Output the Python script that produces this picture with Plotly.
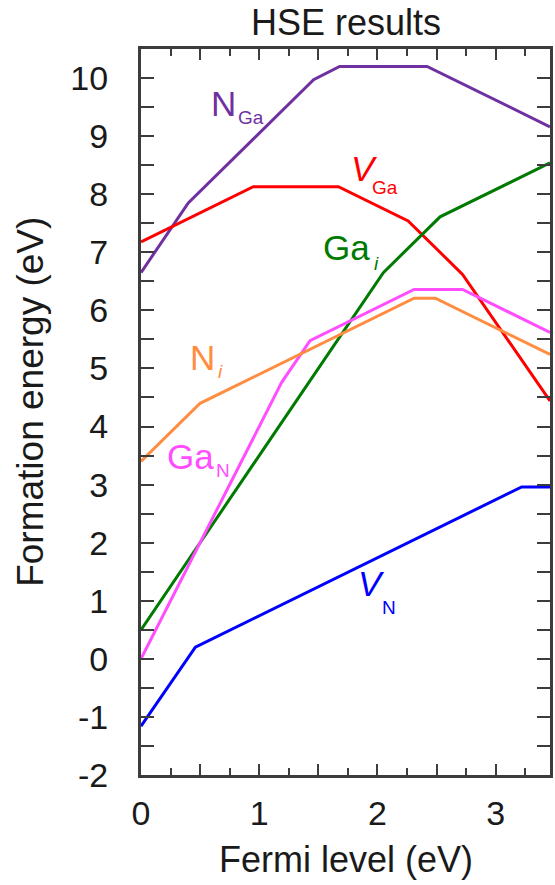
import plotly.graph_objects as go

# Formation energies (eV) of native point defects in GaN vs. Fermi level (eV)
fermi_nga = [0, 0.40, 1.46, 1.68, 2.42, 3.46]
e_nga = [6.65, 7.85, 9.97, 10.2, 10.2, 9.16]

fermi_vga = [0, 0.95, 1.67, 2.26, 2.72, 3.46]
e_vga = [7.18, 8.13, 8.13, 7.54, 6.62, 4.44]

fermi_gai = [0, 2.05, 2.53, 3.46]
e_gai = [0.5, 6.65, 7.61, 8.54]

fermi_gan = [0, 1.19, 1.43, 2.31, 2.72, 3.46]
e_gan = [0, 4.76, 5.48, 6.36, 6.36, 5.62]

fermi_ni = [0, 0.5, 2.31, 2.49, 3.46]
e_ni = [3.4, 4.4, 6.21, 6.21, 5.24]

fermi_vn = [0, 0.46, 3.22, 3.46]
e_vn = [-1.16, 0.2, 2.96, 2.96]

x_tickvals = [0, 0.5, 1, 1.5, 2, 2.5, 3]
x_ticktext = ["0", "", "1", "", "2", "", "3"]
y_tickvals = [-2, -1, 0, 1, 2, 3, 4, 5, 6, 7, 8, 9, 10]
y_ticktext = ["-2", "-1", "0", "1", "2", "3", "4", "5", "6", "7", "8", "9", "10"]

FONT = "Liberation Sans, Arial, sans-serif"
AXIS_COLOR = "#3c3c3c"
TEXT_COLOR = "#1a1a1a"

series = [
    (fermi_nga, e_nga, "#7030A0"),
    (fermi_vga, e_vga, "#FF0000"),
    (fermi_gai, e_gai, "#007A00"),
    (fermi_gan, e_gan, "#FF4DFF"),
    (fermi_ni, e_ni, "#FF8C40"),
    (fermi_vn, e_vn, "#0000FF"),
]

fig = go.Figure()
for xs, ys, color in series:
    fig.add_trace(go.Scatter(x=xs, y=ys, mode="lines",
                             line=dict(color=color, width=3),
                             showlegend=False, hoverinfo="skip"))

# defect labels: main symbol and subscript drawn as separate texts
labels = [
    # (main text, x, y, sub text, sub x, sub y, color)
    ("N", 0.70, 9.57, "Ga", 0.93, 9.32, "#7030A0"),
    ("<i>V</i>", 1.89, 8.45, "Ga", 2.06, 8.12, "#FF0000"),
    ("Ga", 1.74, 7.08, "<i>i</i>", 1.99, 6.80, "#007A00"),
    ("N", 0.52, 5.18, "<i>i</i>", 0.67, 4.94, "#FF8C40"),
    ("Ga", 0.42, 3.49, "N", 0.69, 3.24, "#FF4DFF"),
    ("<i>V</i>", 1.95, 1.29, "N", 2.10, 0.88, "#0000FF"),
]
annotations = []
for main, mx, my, sub, sx, sy, color in labels:
    annotations.append(dict(text=main, x=mx, y=my, xref="x", yref="y",
                            showarrow=False, font=dict(family=FONT, size=35, color=color)))
    annotations.append(dict(text=sub, x=sx, y=sy, xref="x", yref="y",
                            showarrow=False, font=dict(family=FONT, size=19, color=color)))

# chart title and axis titles
annotations += [
    dict(text="HSE results", x=0.5, y=1.036, xref="paper", yref="paper",
         xanchor="center", yanchor="middle", showarrow=False,
         font=dict(family=FONT, size=36, color=TEXT_COLOR)),
    dict(text="Fermi level (eV)", x=0.5, y=-0.116, xref="paper", yref="paper",
         xanchor="center", yanchor="middle", showarrow=False,
         font=dict(family=FONT, size=36, color=TEXT_COLOR)),
    dict(text="Formation energy (eV)", x=-0.269, y=0.514, xref="paper", yref="paper",
         xanchor="center", yanchor="middle", showarrow=False, textangle=-90,
         font=dict(family=FONT, size=37, color=TEXT_COLOR)),
]

fig.update_layout(
    width=555, height=885,
    margin=dict(l=141, r=2, t=49, b=110, pad=0),
    paper_bgcolor="white", plot_bgcolor="white",
    annotations=annotations,
    font=dict(family=FONT, color=TEXT_COLOR),
)

fig.update_xaxes(
    range=[0, 3.46], tickmode="array", tickvals=x_tickvals, ticktext=x_ticktext,
    ticks="inside", ticklen=11, tickwidth=2, tickcolor=AXIS_COLOR,
    minor=dict(tickmode="linear", tick0=0, dtick=0.25, ticks="inside",
               ticklen=7, tickwidth=2, tickcolor=AXIS_COLOR),
    showline=True, linewidth=3, linecolor=AXIS_COLOR, mirror="ticks",
    showgrid=False, zeroline=False,
    tickfont=dict(family=FONT, size=34, color=TEXT_COLOR),
    ticklabelstandoff=6,
)
fig.update_yaxes(
    range=[-2, 10.5], tickmode="array", tickvals=y_tickvals, ticktext=y_ticktext,
    ticks="inside", ticklen=13, tickwidth=2, tickcolor=AXIS_COLOR,
    minor=dict(tickmode="linear", tick0=0, dtick=0.5, ticks="inside",
               ticklen=13, tickwidth=2, tickcolor=AXIS_COLOR),
    showline=True, linewidth=3, linecolor=AXIS_COLOR, mirror="ticks",
    showgrid=False, zeroline=False,
    tickfont=dict(family=FONT, size=34, color=TEXT_COLOR),
    ticklabelstandoff=23,
)

fig.write_html("out.html")
